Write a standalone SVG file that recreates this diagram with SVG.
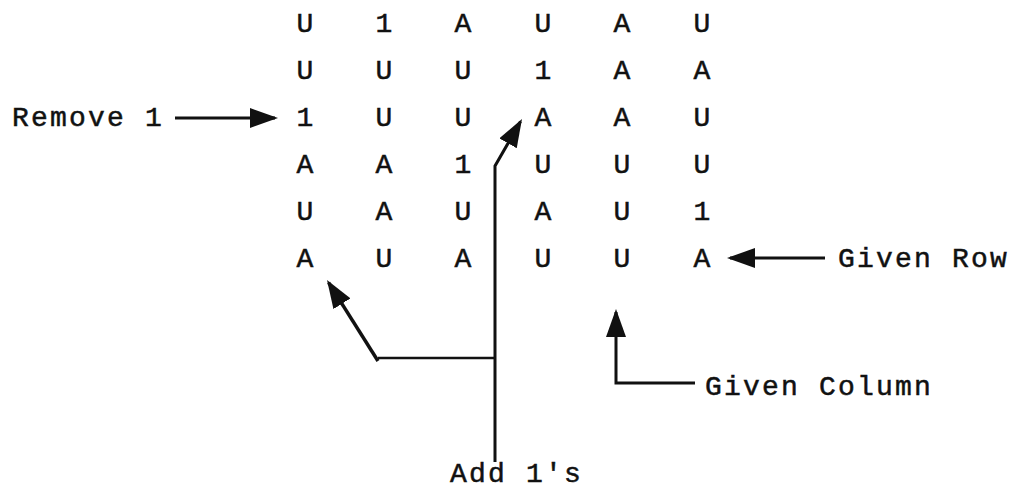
<svg xmlns="http://www.w3.org/2000/svg" width="1011" height="495" viewBox="0 0 1011 495">
  <style>
    text { font-family: "Liberation Mono", "Courier New", monospace; font-size: 28px; letter-spacing: 2.2px; fill: #111; stroke: #111; stroke-width: 0.5; }
    .cell { text-anchor: middle; letter-spacing: 0; }
    .wire { fill: none; stroke: #111; stroke-width: 3; stroke-linejoin: miter; }
    .thin { stroke-width: 2.5; }
  </style>
  <defs>
    <marker id="head" viewBox="0 0 28 20" refX="25" refY="10" markerWidth="28" markerHeight="20" markerUnits="userSpaceOnUse" orient="auto">
      <path d="M0,0 L28,10 L0,20 z" fill="#111"/>
    </marker>
  </defs>
  <rect width="1011" height="495" fill="#fff"/>

  <!-- 6x6 grid of entries -->
  <g id="grid">
    <g id="row1">
      <text class="cell" x="305" y="32">U</text><text class="cell" x="384" y="32">1</text><text class="cell" x="463" y="32">A</text>
      <text class="cell" x="543" y="32">U</text><text class="cell" x="622" y="32">A</text><text class="cell" x="702" y="32">U</text>
    </g>
    <g id="row2">
      <text class="cell" x="305" y="79">U</text><text class="cell" x="384" y="79">U</text><text class="cell" x="463" y="79">U</text>
      <text class="cell" x="543" y="79">1</text><text class="cell" x="622" y="79">A</text><text class="cell" x="702" y="79">A</text>
    </g>
    <g id="row3">
      <text class="cell" x="305" y="126">1</text><text class="cell" x="384" y="126">U</text><text class="cell" x="463" y="126">U</text>
      <text class="cell" x="543" y="126">A</text><text class="cell" x="622" y="126">A</text><text class="cell" x="702" y="126">U</text>
    </g>
    <g id="row4">
      <text class="cell" x="305" y="173">A</text><text class="cell" x="384" y="173">A</text><text class="cell" x="463" y="173">1</text>
      <text class="cell" x="543" y="173">U</text><text class="cell" x="622" y="173">U</text><text class="cell" x="702" y="173">U</text>
    </g>
    <g id="row5">
      <text class="cell" x="305" y="220">U</text><text class="cell" x="384" y="220">A</text><text class="cell" x="463" y="220">U</text>
      <text class="cell" x="543" y="220">A</text><text class="cell" x="622" y="220">U</text><text class="cell" x="702" y="220">1</text>
    </g>
    <g id="row6">
      <text class="cell" x="305" y="267">A</text><text class="cell" x="384" y="267">U</text><text class="cell" x="463" y="267">A</text>
      <text class="cell" x="543" y="267">U</text><text class="cell" x="622" y="267">U</text><text class="cell" x="702" y="267">A</text>
    </g>
  </g>

  <!-- labels -->
  <g id="remove1"><text x="12" y="126">Remove 1</text></g>
  <g id="givenRow"><text x="838" y="267">Given Row</text></g>
  <g id="givenColumn"><text x="705" y="395">Given Column</text></g>
  <g id="add1s"><text x="450" y="482">Add 1's</text></g>

  <!-- connectors -->
  <g id="connectors">
    <path class="wire" d="M175,118 L275,118" marker-end="url(#head)"/>
    <path class="wire" d="M825,258 L730,258" marker-end="url(#head)"/>
    <path class="wire" d="M695,383 L616,383 L616,312" marker-end="url(#head)"/>
    <path class="wire" d="M495,462 L495,166 L520.5,121.6" marker-end="url(#head)"/>
    <path class="wire thin" d="M495,358 L378,358"/>
    <path class="wire" style="stroke-width:3.5" d="M378,361 L328.6,282.6" marker-end="url(#head)"/>
  </g>
</svg>
